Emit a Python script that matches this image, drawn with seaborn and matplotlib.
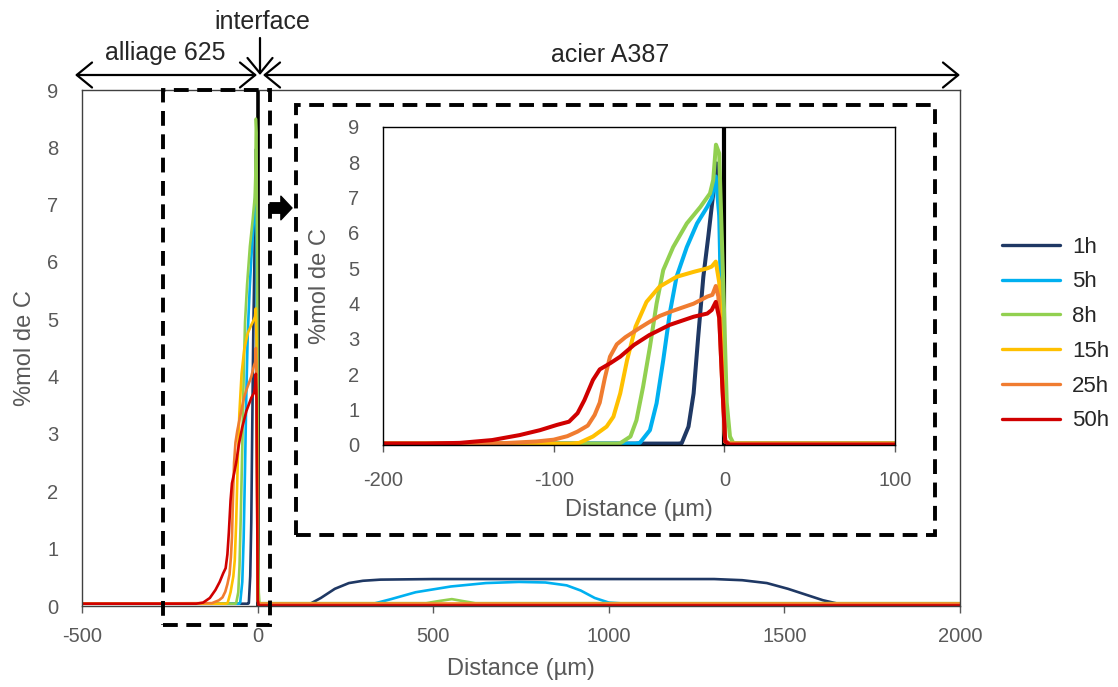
import numpy as np
import pandas as pd
import matplotlib
matplotlib.use('Agg')
import matplotlib.pyplot as plt
import seaborn as sns
from matplotlib.patches import Rectangle, FancyArrowPatch

# carbon profiles across the 625 / A387 interface
times = ['1h', '5h', '8h', '15h', '25h', '50h']
colors = ['#1F3864', '#00B0F0', '#92D050', '#FFC000', '#F07C30', '#D00000']

x_1h = [-500, -27, -25, -21, -18, -15.3, -12.3, -9.4, -6.5, -4.5, -2.5, -0.6, 0.4, 3,
        150, 180, 220, 260, 300, 350, 500, 800, 1100, 1300, 1380, 1450, 1510, 1560, 1610, 1660, 1720, 2000]
y_1h = [0.04, 0.04, 0.05, 0.52, 1.46, 3.07, 4.76, 5.9, 7.12, 7.97, 6.4, 1.65, 0.1, 0.04,
        0.04, 0.14, 0.3, 0.4, 0.44, 0.46, 0.47, 0.47, 0.47, 0.47, 0.45, 0.4, 0.3, 0.2, 0.1, 0.03, 0.02, 0.02]

x_5h = [-500, -52, -49.5, -43.6, -39.7, -35.8, -32, -28, -22, -16, -10, -7.4, -5, -3, -1, 0.5, 3,
        330, 380, 450, 550, 650, 744, 820, 880, 920, 960, 1000, 1050, 2000]
y_5h = [0.04, 0.04, 0.06, 0.42, 1.18, 2.4, 3.72, 4.76, 5.6, 6.27, 6.74, 6.98, 7.6, 6.5, 2.0, 0.1, 0.04,
        0.04, 0.12, 0.24, 0.34, 0.40, 0.42, 0.41, 0.36, 0.27, 0.14, 0.06, 0.04, 0.04]

x_8h = [-500, -63, -61, -55, -51.5, -47.6, -43.6, -39.7, -35.8, -30, -22, -14, -8.4, -6.5, -4.9, -3,
        -0.6, 1.4, 3.3, 5.3, 480, 520, 553, 590, 620, 2000]
y_8h = [0.04, 0.04, 0.05, 0.24, 0.7, 1.65, 2.78, 4.0, 4.95, 5.6, 6.27, 6.74, 7.12, 7.5, 8.5, 8.25,
        4.5, 1.2, 0.24, 0.05, 0.05, 0.09, 0.12, 0.08, 0.05, 0.05]

x_15h = [-500, -90, -85, -77, -69, -65, -61, -57, -52, -45.6, -38, -28, -18, -10, -7.4, -5, -3, -1, 0.5, 3, 2000]
y_15h = [0.04, 0.04, 0.06, 0.24, 0.52, 0.8, 1.46, 2.4, 3.35, 4.05, 4.48, 4.76, 4.9, 5.0, 5.05, 5.19, 4.6, 1.8, 0.1, 0.04, 0.04]

x_25h = [-500, -130, -110, -100, -92, -86, -80, -76, -73, -70, -67, -63, -58, -50, -45, -38, -30, -18,
         -10, -7, -5, -3.5, -1.5, 0.5, 3, 2000]
y_25h = [0.04, 0.05, 0.1, 0.15, 0.25, 0.38, 0.55, 0.85, 1.2, 1.9, 2.5, 2.85, 3.05, 3.3, 3.45, 3.65, 3.8, 4.0,
         4.2, 4.25, 4.5, 4.2, 2.0, 0.1, 0.04, 0.04]

x_50h = [-500, -175, -155, -136, -120, -108, -98, -91, -86, -82, -77, -73, -67, -61, -53, -44, -32, -18,
         -10, -7.4, -5, -3, -1, 0.5, 3, 2000]
y_50h = [0.04, 0.04, 0.06, 0.14, 0.28, 0.42, 0.57, 0.66, 0.9, 1.27, 1.84, 2.14, 2.31, 2.5, 2.83, 3.11, 3.4, 3.63,
         3.72, 3.82, 4.05, 3.6, 1.5, 0.1, 0.01, 0.01]

xs = [x_1h, x_5h, x_8h, x_15h, x_25h, x_50h]
ys = [y_1h, y_5h, y_8h, y_15h, y_25h, y_50h]
df = pd.concat([pd.DataFrame({'distance': x, 'carbon': y, 'time': t})
                for x, y, t in zip(xs, ys, times)], ignore_index=True)

sns.set_style('white')
plt.rcParams['font.family'] = ['Liberation Sans', 'DejaVu Sans']
plt.rcParams['axes.unicode_minus'] = False
grey = '#595959'

W, H = 1118, 687
fig = plt.figure(figsize=(W / 100, H / 100), dpi=100)

def fx(px):
    return px / W

def fy(py):
    return 1 - py / H

# main axes
ax = fig.add_axes([fx(82), fy(606), fx(960) - fx(82), fy(90) - fy(606)])
sns.lineplot(data=df, x='distance', y='carbon', hue='time', hue_order=times, palette=colors,
             estimator=None, sort=False, lw=1.9, ax=ax)
ax.axvline(0, color='black', lw=2.6, zorder=1.5)
ax.set_xlim(-500, 2000)
ax.set_ylim(0, 9)
ax.set_xticks([-500, 0, 500, 1000, 1500, 2000])
ax.set_yticks(range(0, 10))
ax.set_xlabel('Distance (µm)', fontsize=17, color=grey, labelpad=9)
ax.set_ylabel('%mol de C', fontsize=17, color=grey, labelpad=8)
ax.tick_params(axis='x', length=5, width=1, color=grey, direction='out', labelsize=14.5, labelcolor=grey, pad=10,
               bottom=True)
ax.tick_params(axis='y', length=0, labelsize=14.5, labelcolor=grey, pad=17)
for s in ax.spines.values():
    s.set_color('#404040')
    s.set_linewidth(1)
handles, labels = ax.get_legend_handles_labels()
ax.get_legend().remove()

# inset axes
axi = fig.add_axes([fx(383), fy(445), fx(895) - fx(383), fy(127) - fy(445)])
sns.lineplot(data=df, x='distance', y='carbon', hue='time', hue_order=times, palette=colors,
             estimator=None, sort=False, lw=2.9, ax=axi, legend=False)
axi.axvline(0, color='black', lw=3, zorder=1.5)
axi.set_xlim(-200, 100)
axi.set_ylim(0, 9)
axi.set_xticks([-200, -100, 0, 100])
axi.set_yticks(range(0, 10))
axi.set_xlabel('Distance (µm)', fontsize=17, color=grey, labelpad=6)
axi.set_ylabel('%mol de C', fontsize=17, color=grey, labelpad=12)
axi.tick_params(axis='x', length=5, width=1, color=grey, direction='out', labelsize=14.5, labelcolor=grey, pad=14,
                bottom=True)
axi.tick_params(axis='y', length=0, labelsize=14.5, labelcolor=grey, pad=17)
for s in axi.spines.values():
    s.set_color('black')
    s.set_linewidth(1)

# legend
fig.legend(handles, labels, loc='center left', bbox_to_anchor=(fx(1002), fy(334)), frameon=False,
           fontsize=16, handlelength=2.6, handletextpad=0.55, labelspacing=0.62, borderpad=0, borderaxespad=0)
for h in fig.legends[0].get_lines():
    h.set_linewidth(2.4)

# dashed zoom boxes
dash = (0, (3.8, 2.2))
fig.add_artist(Rectangle((fx(163), fy(625)), fx(270) - fx(163), fy(90) - fy(625), transform=fig.transFigure,
                         fill=False, ec='black', lw=2.8, ls=dash))
fig.add_artist(Rectangle((fx(296), fy(535)), fx(935) - fx(296), fy(105) - fy(535), transform=fig.transFigure,
                         fill=False, ec='black', lw=2.8, ls=dash))
fig.add_artist(FancyArrowPatch((fx(270), fy(208)), (fx(292), fy(208)), transform=fig.transFigure,
                               arrowstyle='simple,head_length=0.8,head_width=1.7,tail_width=0.75',
                               mutation_scale=10, color='black', shrinkA=0, shrinkB=0))

# top annotations
arrow_style = '<->,head_length=0.55,head_width=0.45'
fig.add_artist(FancyArrowPatch((fx(75), fy(75)), (fx(257), fy(75)), transform=fig.transFigure,
                               arrowstyle=arrow_style, mutation_scale=20, lw=1.6, color='black',
                               shrinkA=0, shrinkB=0))
fig.add_artist(FancyArrowPatch((fx(263), fy(75)), (fx(960), fy(75)), transform=fig.transFigure,
                               arrowstyle=arrow_style, mutation_scale=20, lw=1.6, color='black',
                               shrinkA=0, shrinkB=0))
fig.add_artist(FancyArrowPatch((fx(260), fy(38)), (fx(260), fy(75)), transform=fig.transFigure,
                               arrowstyle='->,head_length=0.55,head_width=0.45', mutation_scale=20, lw=1.6,
                               color='black', shrinkA=0, shrinkB=0))
fig.text(fx(262), fy(22), 'interface', fontsize=18, ha='center', va='center')
fig.text(fx(165), fy(53), 'alliage 625', fontsize=18, ha='center', va='center')
fig.text(fx(610), fy(55), 'acier A387', fontsize=18, ha='center', va='center')

fig.savefig('out.png', dpi=100)
